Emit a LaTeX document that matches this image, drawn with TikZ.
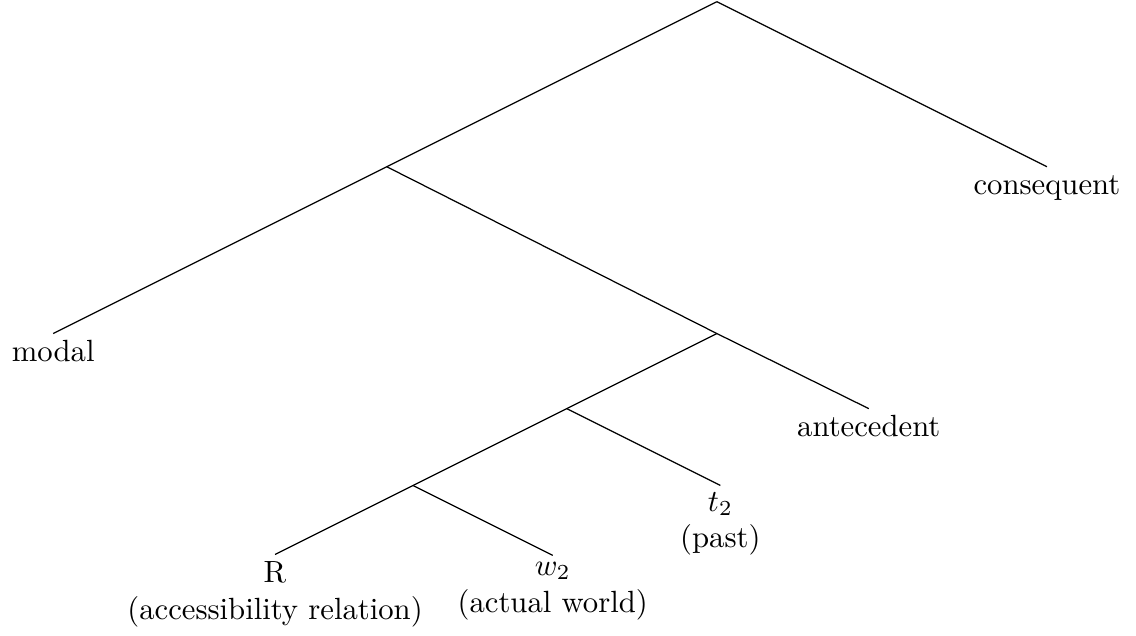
\documentclass[tikz,border=0pt]{standalone}
\usepackage{tikz}

\begin{document}
\begin{tikzpicture}[
    every node/.style={font=\normalsize},
    leaf/.style={
        anchor=north,
        align=center,
        inner sep=2pt,
        execute at begin node={\vphantom{d}}
    }
]
\useasboundingbox (-8.21,0.02) rectangle (4.80,-7.26);

% branching points
\coordinate (top) at (0,0);
\coordinate (n1) at (-3.78,-1.89);
\coordinate (n2) at (0,-3.80);
\coordinate (n3) at (-1.72,-4.66);
\coordinate (n4) at (-3.48,-5.54);

% leaves
\node[leaf] (consequent) at (3.78,-1.89) {consequent};
\node[leaf] (modal) at (-7.60,-3.80) {modal};
\node[leaf] (antecedent) at (1.74,-4.66) {antecedent};
\node[leaf] (past) at (0.04,-5.54) {$t_2$\\(past)};
\node[leaf] (rel) at (-5.06,-6.33) {R\\(accessibility relation)};
\node[leaf] (world) at (-1.88,-6.34) {$w_2$\\(actual world)};

\draw (top) -- (consequent.north);
\draw (top) -- (n1) -- (modal.north);
\draw (n1) -- (n2) -- (antecedent.north);
\draw (n2) -- (n3) -- (n4) -- (rel.north);
\draw (n3) -- (past.north);
\draw (n4) -- (world.north);

\end{tikzpicture}
\end{document}
